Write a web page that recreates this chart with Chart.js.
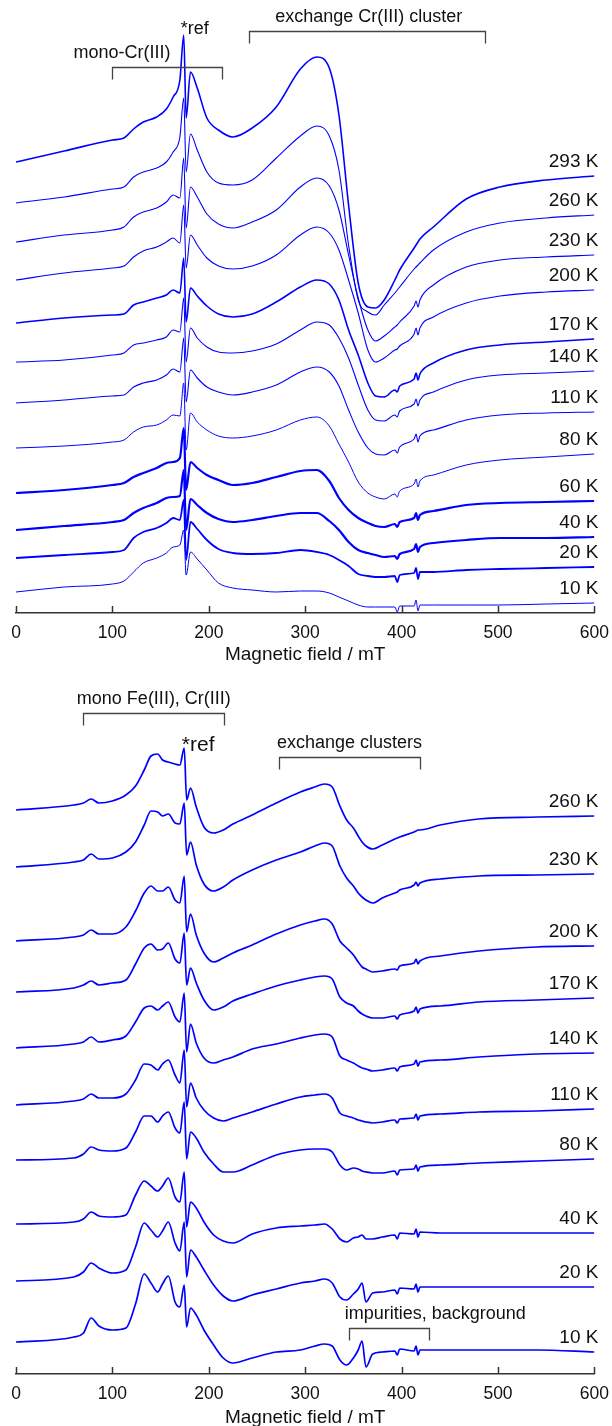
<!DOCTYPE html>
<html>
<head>
<meta charset="utf-8">
<script src="https://cdn.jsdelivr.net/npm/chart.js@4"></script>
<style>
  body { margin: 0; background: #fff; overflow: hidden; }
  canvas { position: absolute; left: 0; }
  #crChart { top: 0; }
  #feChart { top: 668px; }
</style>
</head>
<body>
<canvas id="crChart" width="612" height="668"></canvas>
<canvas id="feChart" width="612" height="758"></canvas>
<script>
// EPR spectra, stacked by temperature (intensity in arbitrary offset units)

// upper set: Cr(III) sample
const fieldTop = [0, 50, 100, 112, 122, 132, 146, 156, 163, 170, 174, 176.5, 181, 188, 198, 210, 225, 245, 270, 295,
  312, 325, 335, 345, 355, 365, 373, 382, 393, 395.5, 398, 413, 415, 417, 419, 433, 467, 502, 550, 600];
const tempsTop = ['293 K', '260 K', '230 K', '200 K', '170 K', '140 K', '110 K', '80 K', '60 K', '40 K', '20 K', '10 K'];

const cr293 = [451, 462, 473, 475, 484, 491, 496, 504, 516, 533, 578, 495, 541, 525, 495, 483, 476, 485, 506, 544, 556, 545, 498, 408, 330, 306, 305, 313, 333, 338, 343, 365, 368, 371, 374, 386, 414, 426, 433, 437];
const cr260 = [410, 416, 424, 426, 436, 441, 445, 451, 461, 476, 515, 441, 479, 463, 441, 430, 428, 433, 455, 477, 487, 477, 443, 368, 313, 301, 298, 308, 320, 323, 326, 344, 346, 348, 350, 363, 381, 390, 395, 398];
const cr230 = [371, 378, 383, 386, 396, 401, 405, 411, 418, 415, 455, 385, 426, 416, 399, 389, 385, 391, 403, 426, 435, 427, 403, 358, 315, 283, 272, 277, 286, 288, 291, 307, 312, 306, 313, 328, 346, 353, 356, 358];
const cr200 = [333, 340, 345, 347, 356, 362, 366, 371, 375, 370, 408, 345, 378, 368, 355, 347, 344, 347, 358, 378, 386, 380, 363, 333, 300, 263, 251, 255, 263, 264, 267, 279, 285, 278, 285, 296, 310, 317, 321, 323];
const cr170 = [290, 295, 298, 299, 308, 311, 315, 318, 323, 320, 355, 291, 325, 317, 307, 299, 296, 299, 311, 326, 333, 329, 313, 283, 258, 230, 217, 216, 223, 221, 227, 234, 240, 233, 239, 250, 263, 268, 271, 274];
const cr140 = [251, 253, 258, 260, 268, 270, 273, 276, 283, 281, 315, 251, 285, 275, 266, 261, 260, 262, 269, 283, 291, 288, 275, 255, 228, 203, 193, 192, 198, 196, 202, 209, 214, 207, 213, 221, 233, 238, 240, 242];
const cr110 = [210, 213, 217, 218, 226, 230, 233, 238, 244, 241, 275, 211, 243, 235, 226, 221, 218, 221, 228, 241, 246, 241, 227, 203, 181, 165, 159, 158, 163, 160, 166, 174, 179, 171, 177, 183, 193, 198, 200, 201];
const cr80 = [165, 167, 171, 173, 181, 186, 188, 193, 198, 197, 230, 163, 200, 191, 183, 177, 175, 177, 183, 193, 196, 187, 169, 151, 131, 120, 116, 114, 119, 116, 122, 129, 134, 126, 132, 138, 148, 153, 156, 159];
const cr60 = [120, 123, 128, 130, 136, 140, 145, 150, 151, 155, 185, 123, 151, 145, 138, 133, 128, 130, 136, 142, 143, 132, 115, 103, 95, 90, 87, 86, 89, 86, 91, 95, 100, 93, 98, 102, 108, 110, 111, 112];
const cr40 = [83, 87, 91, 93, 100, 105, 110, 115, 116, 117, 143, 83, 114, 108, 100, 94, 91, 93, 97, 100, 100, 92, 83, 71, 63, 60, 58, 56, 57, 54, 59, 64, 69, 61, 66, 70, 73, 75, 75, 76];
const cr20 = [55, 58, 61, 63, 75, 81, 85, 90, 95, 93, 113, 53, 91, 84, 73, 64, 60, 59, 60, 63, 61, 58, 53, 47, 39, 37, 36, 36, 37, 31, 38, 40, 45, 34, 41, 41, 43, 44, 45, 46];
const cr10 = [21, 26, 29, 32, 41, 50, 55, 60, 66, 68, 83, 38, 61, 54, 43, 30, 25, 23, 21, 22, 22, 20, 16, 12, 8, 6, 6, 6, 6, 1, 7, 7, 13, 2, 8, 8, 8, 8, 9, 10];

// lower set: Fe(III)/Cr(III) sample
const fieldBottom = [0, 60, 70, 78, 86, 100, 114, 124, 133, 140, 147, 152, 158, 165, 170, 174.5, 177, 181, 187, 195,
  205, 215, 225, 245, 270, 295, 310, 320, 328, 336, 343, 350, 355, 359, 363, 370, 380, 393, 395.5, 398,
  413, 415, 417, 419, 440, 480, 540, 600];
const tempsBottom = ['260 K', '230 K', '200 K', '170 K', '140 K', '110 K', '80 K', '40 K', '20 K', '10 K'];

const fe260 = [564, 569, 571, 575, 571, 573, 579, 588, 604, 618, 620, 614, 612, 610, 609, 626, 574, 586, 567, 547, 541, 544, 550, 559, 571, 582, 587, 590, 587, 568, 554, 546, 538, 532, 528, 525, 529, 535, 536, 537, 542, 543, 544, 544, 549, 555, 557, 558];
const fe230 = [507, 512, 514, 520, 515, 516, 522, 532, 549, 563, 562, 558, 560, 551, 550, 571, 519, 532, 509, 490, 483, 487, 494, 504, 514, 522, 528, 531, 528, 508, 496, 488, 481, 477, 474, 471, 476, 481, 482, 484, 489, 492, 488, 491, 495, 498, 499, 500];
const fe200 = [433, 437, 439, 444, 440, 440, 447, 463, 481, 488, 483, 483, 487, 474, 471, 498, 442, 460, 439, 421, 412, 416, 421, 429, 440, 449, 453, 455, 450, 433, 426, 419, 412, 407, 405, 402, 403, 405, 404, 408, 411, 415, 410, 413, 418, 423, 427, 428];
const fe170 = [382, 386, 389, 393, 389, 391, 394, 410, 426, 430, 424, 425, 431, 415, 411, 441, 389, 406, 391, 374, 364, 367, 373, 380, 388, 394, 397, 398, 395, 377, 371, 368, 363, 360, 358, 356, 356, 358, 355, 359, 363, 367, 361, 365, 368, 372, 374, 376];
const fe140 = [326, 330, 332, 337, 332, 334, 338, 352, 366, 368, 364, 368, 372, 357, 352, 381, 322, 350, 331, 316, 311, 314, 317, 325, 330, 336, 339, 340, 337, 318, 314, 311, 308, 306, 305, 303, 304, 306, 303, 307, 310, 314, 308, 312, 314, 317, 320, 321];
const fe110 = [269, 273, 275, 280, 276, 276, 280, 294, 310, 309, 304, 310, 314, 299, 291, 324, 267, 291, 276, 264, 256, 253, 256, 262, 270, 277, 279, 280, 276, 261, 258, 256, 254, 253, 252, 251, 252, 254, 251, 255, 256, 260, 254, 258, 260, 262, 263, 265];
const fe80 = [214, 216, 220, 227, 224, 223, 226, 242, 258, 258, 252, 258, 262, 246, 241, 272, 215, 242, 236, 222, 210, 202, 202, 209, 219, 224, 225, 225, 222, 209, 204, 206, 205, 203, 202, 201, 201, 203, 199, 204, 205, 209, 203, 207, 209, 211, 213, 215];
const fe40 = [150, 152, 155, 162, 158, 157, 159, 179, 193, 188, 183, 188, 196, 177, 172, 202, 147, 172, 166, 152, 139, 133, 131, 140, 146, 148, 149, 150, 145, 135, 132, 136, 137, 139, 135, 135, 137, 139, 135, 141, 140, 145, 137, 142, 141, 141, 141, 141];
const fe20 = [93, 97, 102, 111, 106, 101, 104, 127, 151, 144, 137, 143, 152, 131, 123, 152, 97, 124, 117, 104, 89, 78, 73, 79, 85, 91, 93, 95, 91, 77, 74, 80, 85, 91, 72, 81, 82, 84, 80, 86, 85, 90, 82, 87, 87, 87, 87, 87];
const fe10 = [32, 37, 41, 56, 48, 44, 46, 70, 100, 91, 82, 90, 98, 72, 67, 89, 47, 66, 59, 44, 29, 16, 11, 16, 22, 24, 28, 30, 28, 14, 9, 16, 24, 33, 7, 20, 22, 23, 19, 25, 23, 28, 19, 24, 24, 24, 24, 22];

const fieldTicks = [0, 100, 200, 300, 400, 500, 600];

Chart.defaults.font.family = '"Liberation Sans", Arial, Helvetica, sans-serif';
Chart.defaults.color = '#111';

// draws inward ticks, temperature labels, brackets and the *ref marker
function makeAnnotations(brackets, refMark) {
  return {
    id: 'annotations',
    afterDatasetsDraw(chart) {
      const { ctx, chartArea, scales: { x, y } } = chart;
      ctx.save();

      ctx.strokeStyle = '#333';
      ctx.lineWidth = 1.5;
      fieldTicks.forEach(v => {
        const px = Math.round(x.getPixelForValue(v)) + 0.5;
        ctx.beginPath();
        ctx.moveTo(px, chartArea.bottom);
        ctx.lineTo(px, chartArea.bottom - 7);
        ctx.stroke();
      });

      ctx.fillStyle = '#111';
      ctx.font = '19px "Liberation Sans", Arial, sans-serif';
      ctx.textAlign = 'right';
      ctx.textBaseline = 'middle';
      chart.data.datasets.forEach(ds => {
        const last = ds.data[ds.data.length - 1];
        ctx.fillText(ds.label, chartArea.right + 4, y.getPixelForValue(last.y) - 14);
      });

      ctx.font = '18px "Liberation Sans", Arial, sans-serif';
      ctx.textAlign = 'center';
      brackets.forEach(b => {
        const x0 = Math.round(x.getPixelForValue(b.from)) + 0.5;
        const x1 = Math.round(x.getPixelForValue(b.to)) + 0.5;
        const yl = Math.round(y.getPixelForValue(b.level)) + 0.5;
        ctx.strokeStyle = '#444';
        ctx.lineWidth = 1.3;
        ctx.beginPath();
        ctx.moveTo(x0, yl + 12);
        ctx.lineTo(x0, yl);
        ctx.lineTo(x1, yl);
        ctx.lineTo(x1, yl + 12);
        ctx.stroke();
        ctx.fillText(b.text, x.getPixelForValue(b.textAt), y.getPixelForValue(b.level) - 14);
      });

      ctx.font = refMark.size + 'px "Liberation Sans", Arial, sans-serif';
      ctx.textAlign = 'left';
      ctx.fillText('*ref', x.getPixelForValue(refMark.at), y.getPixelForValue(refMark.level));
      ctx.restore();
    }
  };
}

function spectrumChart(id, field, series, temps, widths, yMax, axisHeight, titlePad, brackets, refMark) {
  return new Chart(document.getElementById(id), {
    type: 'line',
    data: {
      datasets: series.map((s, i) => ({
        label: temps[i],
        data: field.map((f, j) => ({ x: f, y: s[j] })),
        borderColor: '#0000ff',
        borderWidth: widths[i],
        pointRadius: 0,
        cubicInterpolationMode: 'monotone',
        fill: false
      }))
    },
    options: {
      responsive: false,
      animation: false,
      events: [],
      layout: { padding: { left: 16, right: 17.6, top: 0, bottom: 0 } },
      plugins: { legend: { display: false }, tooltip: { enabled: false } },
      scales: {
        x: {
          type: 'linear',
          min: 0,
          max: 600,
          afterBuildTicks: axis => { axis.ticks = fieldTicks.map(v => ({ value: v })); },
          afterFit: axis => {
            // fixed axis band; the end labels fit inside the layout padding
            axis.height = axisHeight;
            axis.paddingLeft = 0;
            axis.paddingRight = 0;
          },
          ticks: { padding: 10, maxRotation: 0, font: { size: 17.5 }, color: '#111' },
          grid: { display: false, drawTicks: false },
          border: { display: true, color: '#333', width: 1.5 },
          title: {
            display: true,
            text: 'Magnetic field / mT',
            color: '#111',
            font: { size: 19, lineHeight: 1 },
            padding: { top: 0, bottom: titlePad }
          }
        },
        y: { display: false, min: 0, max: yMax }
      }
    },
    plugins: [makeAnnotations(brackets, refMark)]
  });
}

spectrumChart('crChart', fieldTop,
  [cr293, cr260, cr230, cr200, cr170, cr140, cr110, cr80, cr60, cr40, cr20, cr10],
  tempsTop,
  [1.6, 1.1, 1.1, 1.1, 1.6, 1.1, 1.1, 1.0, 2.2, 2.2, 1.8, 1.0],
  613, 55, 3.5,
  [
    { from: 100, to: 214, level: 546, text: 'mono-Cr(III)', textAt: 110 },
    { from: 242, to: 486, level: 582, text: 'exchange Cr(III) cluster', textAt: 366 }
  ],
  { at: 171, level: 584, size: 18 }
);

spectrumChart('feChart', fieldBottom,
  [fe260, fe230, fe200, fe170, fe140, fe110, fe80, fe40, fe20, fe10],
  tempsBottom,
  [1.7, 1.7, 1.7, 1.7, 1.7, 1.7, 1.7, 1.7, 1.7, 1.7],
  706, 52, -1.5,
  [
    { from: 70, to: 216, level: 661, text: 'mono Fe(III), Cr(III)', textAt: 143 },
    { from: 273, to: 419, level: 617, text: 'exchange clusters', textAt: 346 },
    { from: 345, to: 428, level: 46, text: 'impurities, background', textAt: 435 }
  ],
  { at: 172, level: 629, size: 21 }
);
</script>
</body>
</html>
